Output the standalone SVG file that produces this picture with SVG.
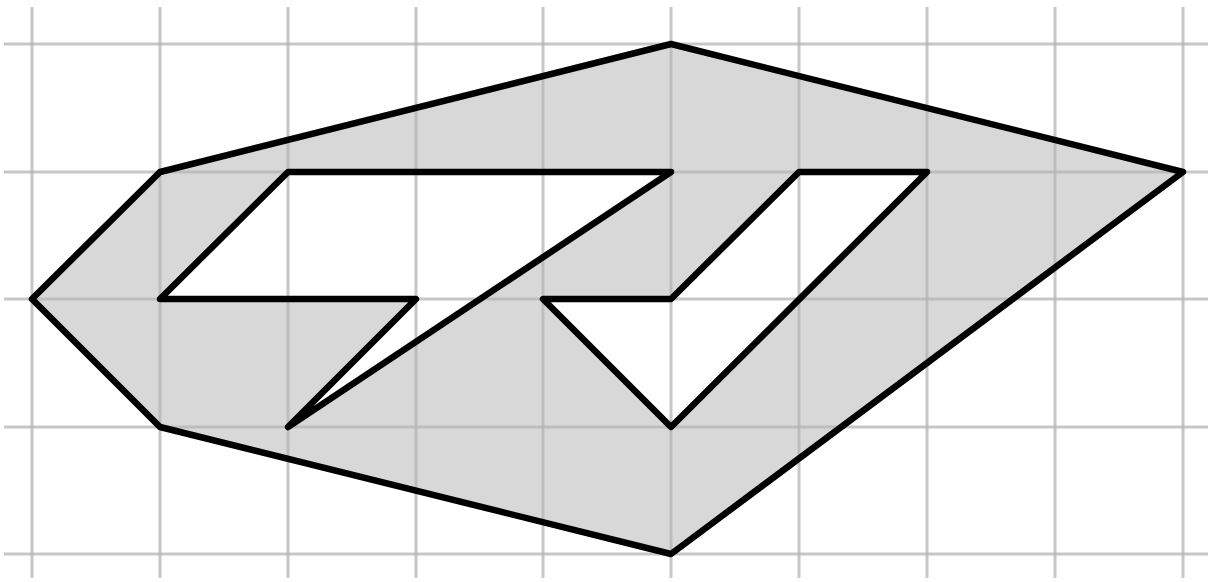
<svg xmlns="http://www.w3.org/2000/svg" width="1212" height="582" viewBox="0 0 1212 582">
<style>
.grid line{stroke:#b4b4b4;stroke-opacity:0.75;stroke-width:3}
.shape{fill:#d8d8d8;fill-rule:evenodd;stroke:none}
.outline{fill:none;stroke:#000;stroke-width:6.5;stroke-linejoin:round}
</style>
<rect width="1212" height="582" fill="#fff"/>
<g id="shape-fill">
<path class="shape" d="M671,44 L1183,172 L671,554 L160,427 L32,299 L160,172 Z M288,172 L671,172 L288,427 L416,299 L160,299 Z M799,172 L927,172 L671,427 L543,299 L671,299 Z"/>
</g>
<g class="grid" id="grid">
<line x1="32" y1="7" x2="32" y2="578"/>
<line x1="160" y1="7" x2="160" y2="578"/>
<line x1="288" y1="7" x2="288" y2="578"/>
<line x1="416" y1="7" x2="416" y2="578"/>
<line x1="543" y1="7" x2="543" y2="578"/>
<line x1="671" y1="7" x2="671" y2="578"/>
<line x1="799" y1="7" x2="799" y2="578"/>
<line x1="927" y1="7" x2="927" y2="578"/>
<line x1="1055" y1="7" x2="1055" y2="578"/>
<line x1="1183" y1="7" x2="1183" y2="578"/>
<line x1="4" y1="44" x2="1208" y2="44"/>
<line x1="4" y1="172" x2="1208" y2="172"/>
<line x1="4" y1="299" x2="1208" y2="299"/>
<line x1="4" y1="427" x2="1208" y2="427"/>
<line x1="4" y1="554" x2="1208" y2="554"/>
</g>
<g id="outlines">
<path class="outline" d="M671,44 L1183,172 L671,554 L160,427 L32,299 L160,172 Z"/>
<path class="outline" d="M288,172 L671,172 L288,427 L416,299 L160,299 Z"/>
<path class="outline" d="M799,172 L927,172 L671,427 L543,299 L671,299 Z"/>
</g>
</svg>
